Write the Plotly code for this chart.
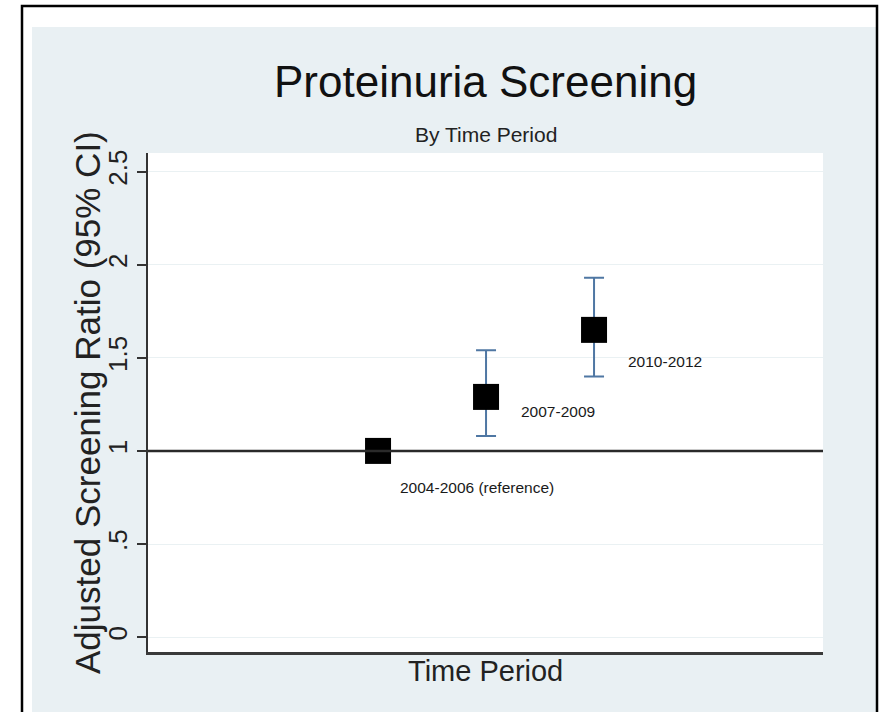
import plotly.graph_objects as go

# ---- data ----
periods = ["2004-2006 (reference)", "2007-2009", "2010-2012"]
x_pos = [1, 2, 3]
ratio = [1.00, 1.29, 1.65]
ci_low = [None, 1.08, 1.40]
ci_high = [None, 1.54, 1.93]
y_ticks = [0, 0.5, 1, 1.5, 2, 2.5]
y_tick_text = ["0", ".5", "1", "1.5", "2", "2.5"]
title_text = "Proteinuria Screening"
subtitle_text = "By Time Period"
x_title = "Time Period"
y_title = "Adjusted Screening Ratio (95% CI)"
ref_value = 1

# ---- layout geometry (pixels) ----
W, H = 879, 712
L, R, T, B = 148, 823, 153, 652
FONT = "Liberation Sans, Arial, Helvetica, sans-serif"


def px(x):
    return (x - L) / (R - L)


def py(y):
    return (B - y) / (B - T)


err_plus = [(h - r) if h is not None else None for h, r in zip(ci_high, ratio)]
err_minus = [(r - l) if l is not None else None for l, r in zip(ci_low, ratio)]

fig = go.Figure()
fig.add_trace(go.Scatter(
    x=x_pos, y=ratio, mode="markers",
    marker=dict(symbol="square", size=26, color="black"),
    error_y=dict(type="data", symmetric=False, array=err_plus, arrayminus=err_minus,
                 color="#4f77a3", thickness=2, width=10),
    showlegend=False, hoverinfo="skip",
))

shapes = [
    # graph region background
    dict(type="rect", xref="paper", yref="paper", layer="below",
         x0=px(32), x1=px(877), y0=py(720), y1=py(27),
         fillcolor="#e9f0f3", line=dict(width=0)),
    # plot region
    dict(type="rect", xref="paper", yref="paper", layer="below",
         x0=0, x1=1, y0=0, y1=1, fillcolor="white", line=dict(width=0)),
    # outer frame
    dict(type="rect", xref="paper", yref="paper", layer="above",
         x0=px(22), x1=px(877), y0=py(730), y1=py(6),
         fillcolor="rgba(0,0,0,0)", line=dict(color="black", width=2.5)),
    # reference line
    dict(type="line", xref="paper", yref="y", layer="above",
         x0=0, x1=1, y0=ref_value, y1=ref_value,
         line=dict(color="#2a2a2a", width=2.5)),
]

label_offsets = [(20, -37), (33, -15), (32, -32)]
annotations = []
for xv, yv, lab, (dx, dy) in zip(x_pos, ratio, periods, label_offsets):
    annotations.append(dict(x=xv, y=yv, xref="x", yref="y", text=lab, showarrow=False,
                            xanchor="left", yanchor="middle", xshift=dx, yshift=dy,
                            font=dict(family=FONT, size=15.5, color="#1a1a1a")))

annotations += [
    dict(x=0.5, y=py(81), xref="paper", yref="paper", text=title_text, showarrow=False,
         xanchor="center", yanchor="middle", font=dict(family=FONT, size=44, color="#111")),
    dict(x=0.5, y=py(135), xref="paper", yref="paper", text=subtitle_text, showarrow=False,
         xanchor="center", yanchor="middle", font=dict(family=FONT, size=21, color="#222")),
    dict(x=0.5, y=py(671), xref="paper", yref="paper", text=x_title, showarrow=False,
         xanchor="center", yanchor="middle", font=dict(family=FONT, size=29, color="#222")),
    dict(x=px(87), y=py(403), xref="paper", yref="paper", text=y_title, showarrow=False,
         textangle=-90, xanchor="center", yanchor="middle",
         font=dict(family=FONT, size=35, color="#222")),
]

fig.update_layout(
    width=W, height=H,
    margin=dict(l=L, r=W - R, t=T, b=H - B, pad=0),
    paper_bgcolor="white", plot_bgcolor="white",
    shapes=shapes, annotations=annotations,
    xaxis=dict(range=[-1.13, 5.12], showticklabels=False, ticks="", showgrid=False,
               zeroline=False, showline=True, linecolor="#3a3a3a", linewidth=3, fixedrange=True),
    yaxis=dict(range=[-0.08, 2.6], tickvals=y_ticks, ticktext=y_tick_text, tickangle=-90,
               ticks="outside", ticklen=9, tickwidth=1.5, tickcolor="#333",
               tickfont=dict(family=FONT, size=26, color="#222"),
               showgrid=True, gridcolor="#eaf1f3", gridwidth=1.2, zeroline=False,
               showline=True, linecolor="#333", linewidth=1.5, fixedrange=True),
)

fig.write_html("out.html")
